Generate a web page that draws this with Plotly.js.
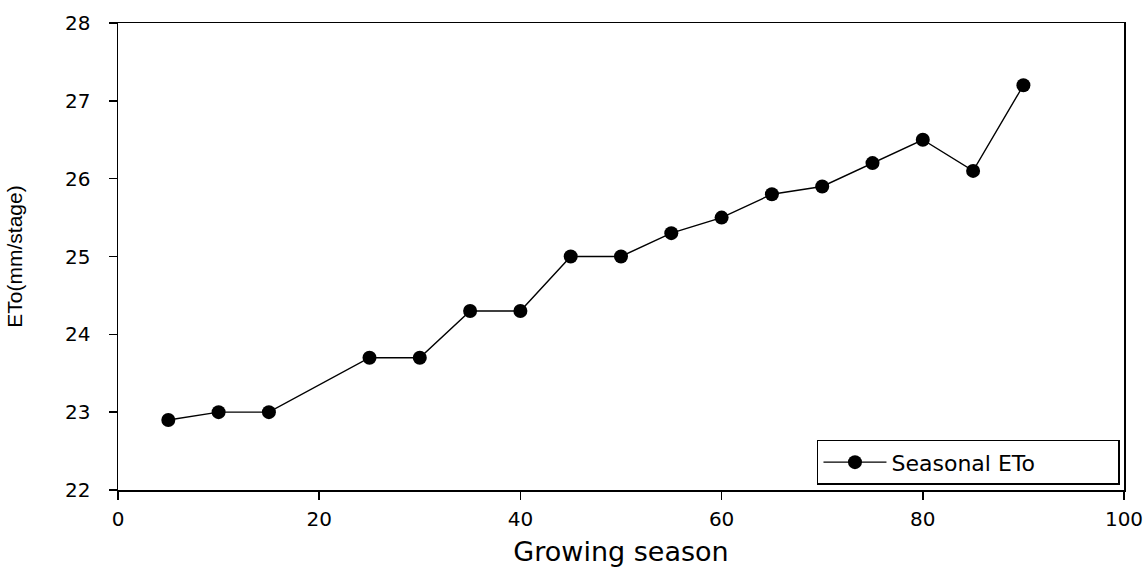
<!DOCTYPE html>
<html><head><meta charset="utf-8">
<script src="https://cdn.plot.ly/plotly-3.0.1.min.js"></script>
<style>html,body{margin:0;padding:0;background:#fff;}#chart{width:1148px;height:568px;}</style>
</head><body><div id="chart"></div>
<script>
const days = [5, 10, 15, 25, 30, 35, 40, 45, 50, 55, 60, 65, 70, 75, 80, 85, 90];
const eto = [22.9, 23.0, 23.0, 23.7, 23.7, 24.3, 24.3, 25.0, 25.0, 25.3, 25.5, 25.8, 25.9, 26.2, 26.5, 26.1, 27.2];
const seriesName = 'Seasonal ETo';
const xTicks = [0, 20, 40, 60, 80, 100];
const yTicks = [22, 23, 24, 25, 26, 27, 28];

const wide = 'DejaVu Sans, Arial, sans-serif';
const arial = 'Liberation Sans, Arial, sans-serif';
Plotly.newPlot('chart', [{
  x: days, y: eto, name: seriesName, type: 'scatter', mode: 'lines+markers',
  line: {color: '#000', width: 1.4},
  marker: {color: '#000', size: 14, symbol: 'circle'}
}], {
  width: 1148, height: 568,
  margin: {l: 118, r: 24, t: 23, b: 78},
  paper_bgcolor: '#fff', plot_bgcolor: '#fff',
  showlegend: true,
  legend: {orientation: 'h', x: 0.996, y: 0.011, xanchor: 'right', yanchor: 'bottom', bordercolor: '#000', borderwidth: 1.5,
    font: {family: wide, size: 22, color: '#000'}, bgcolor: '#fff', entrywidth: 222, entrywidthmode: 'pixels',
    itemwidth: 63},
  xaxis: {range: [0, 100], tickvals: xTicks, ticktext: xTicks.map(String), showgrid: false, zeroline: false,
    showline: true, linecolor: '#000', linewidth: 1.5, mirror: true, ticks: 'outside', ticklen: 8, tickwidth: 1.5, tickcolor: '#000',
    ticklabelstandoff: 2,
    tickfont: {family: wide, size: 20, color: '#000'},
    title: {text: 'Growing season', font: {family: wide, size: 27, color: '#000'}, standoff: 12}},
  yaxis: {range: [22, 28], tickvals: yTicks, ticktext: yTicks.map(String), showgrid: false, zeroline: false,
    showline: true, linecolor: '#000', linewidth: 1.5, mirror: true, ticks: 'outside', ticklen: 8, tickwidth: 1.5, tickcolor: '#000',
    ticklabelstandoff: 14,
    tickfont: {family: wide, size: 20, color: '#000'},
    title: {text: 'ETo(mm/stage)', font: {family: arial, size: 21, color: '#000'}, standoff: 36}}
}, {displayModeBar: false, staticPlot: true});
</script></body></html>
